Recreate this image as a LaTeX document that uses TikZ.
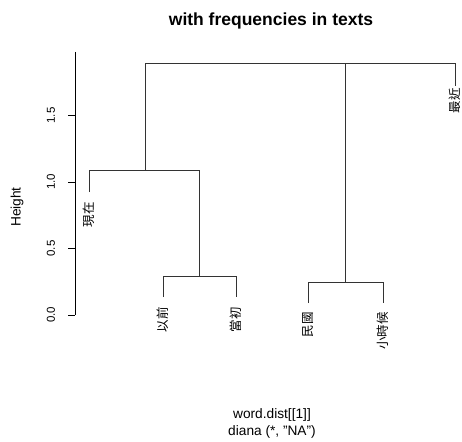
\documentclass[tikz,border=0pt]{standalone}
\usepackage{fontspec}
\setmainfont{Liberation Sans}
\newfontfamily\cjk{Noto Sans CJK TC}
\begin{document}
\begin{tikzpicture}[x=1pt,y=-1pt,
  dline/.style={draw=black!80,line width=0.7pt},
  axisline/.style={draw=black,line width=0.7pt},
  leaflabel/.style={rotate=90,anchor=east,inner sep=0pt,font=\cjk\fontsize{12.5}{13}\selectfont},
  ticklabel/.style={rotate=90,inner sep=0pt,font=\fontsize{11.5}{12}\selectfont},
  plaintext/.style={inner sep=0pt,font=\fontsize{13.7}{15}\selectfont}]
\useasboundingbox (0,0) rectangle (462,441);
% title
\node[inner sep=0pt,font=\bfseries\fontsize{17.5}{19}\selectfont] (title) at (271,21) {with frequencies in texts};
% axis
\coordinate (ytop) at (75,52);
\coordinate (ybot) at (75,315);
\draw[axisline] (ytop) -- (ybot);
\foreach \v/\yy/\n in {0.0/315/t0,0.5/248.5/t1,1.0/182/t2,1.5/115.5/t3}{
  \coordinate (\n) at (75,\yy);
  \coordinate (\n l) at (68,\yy);
  \draw[axisline] (\n) -- (\n l);
  \node[ticklabel] (\n txt) at (51,\yy) {\v};
}
\node[rotate=90,inner sep=0pt,font=\fontsize{13.7}{15}\selectfont] (ylab) at (17,207) {Height};
% x labels
\node[plaintext] (xlab1) at (272,415) {word.dist[[1]]};
\node[plaintext] (xlab2) at (272,432) {diana (*, "NA")};
% leaves
\coordinate (a) at (89,192);
\coordinate (b) at (163,297);
\coordinate (c) at (236,297);
\coordinate (d) at (308,303);
\coordinate (e) at (383,303);
\coordinate (f) at (455,86);
% merges
\coordinate (m1) at (199,276);
\coordinate (m2) at (145,170);
\coordinate (m3) at (345.5,282);
\coordinate (m4) at (300,63);
\draw[dline] (b) -- (b |- m1) -- (c |- m1) -- (c);
\draw[dline] (a) -- (a |- m2) -- (m1 |- m2) -- (m1);
\draw[dline] (d) -- (d |- m3) -- (e |- m3) -- (e);
\draw[dline] (m2) -- (m2 |- m4) -- (f |- m4) -- (f);
\draw[dline] (m3) -- (m3 |- m4);
% labels
\node[leaflabel] (la) at ([yshift=-10]a) {現在};
\node[leaflabel] (lb) at ([yshift=-10]b) {以前};
\node[leaflabel] (lc) at ([yshift=-10]c) {當初};
\node[leaflabel] (ld) at ([yshift=-9]d) {民國};
\node[leaflabel] (le) at ([yshift=-9]e) {小時候};
\node[leaflabel] (lf) at ([yshift=-2]f) {最近};
\end{tikzpicture}
\end{document}
